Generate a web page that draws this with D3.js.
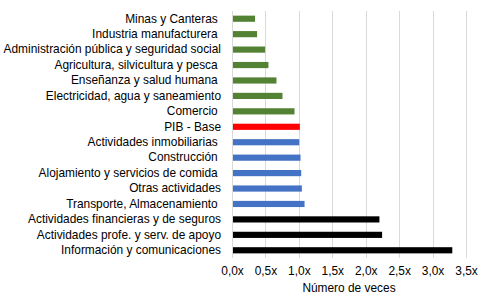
<!DOCTYPE html>
<html>
<head>
<meta charset="utf-8">
<script src="https://cdn.jsdelivr.net/npm/d3@7"></script>
<style>
  body { margin: 0; background: #fff; }
  text { font-family: "Liberation Sans", Arial, sans-serif; fill: #000; }
</style>
</head>
<body>
<div id="chart-area"></div>
<script>
// Data (múltiplos vs PIB)
const categories = [
  'Minas y Canteras ', 'Industria manufacturera ', 'Administración pública y seguridad social',
  'Agricultura, silvicultura y pesca ', 'Enseñanza y salud humana ', 'Electricidad, agua y saneamiento',
  'Comercio ', 'PIB - Base', 'Actividades inmobiliarias ', 'Construcción ',
  'Alojamiento y servicios de comida ', 'Otras actividades', 'Transporte, Almacenamiento ',
  'Actividades financieras y de seguros', 'Actividades profe. y serv. de apoyo', 'Información y comunicaciones'
];
const values = [0.33, 0.36, 0.48, 0.53, 0.65, 0.74, 0.92, 1.00, 0.99, 1.01, 1.02, 1.03, 1.07, 2.19, 2.23, 3.28];
const groups = ['low', 'low', 'low', 'low', 'low', 'low', 'low', 'base', 'mid', 'mid', 'mid', 'mid', 'mid', 'high', 'high', 'high'];
const tickValues = [0, 0.5, 1, 1.5, 2, 2.5, 3, 3.5];

const groupColor = d3.scaleOrdinal()
  .domain(['low', 'base', 'mid', 'high'])
  .range(['#548235', '#ff0000', '#4472c4', '#000000']);

const margins = { top: 11, right: 23, bottom: 50, left: 232 };
const W = 489, H = 308;
const width = W - margins.left - margins.right;
const height = H - margins.top - margins.bottom;
const fontSize = '11.9px';

const svg = d3.select('#chart-area').append('svg')
  .attr('width', W).attr('height', H)
  .append('g')
  .attr('transform', `translate(${margins.left}, ${margins.top})`);

const x = d3.scaleLinear().domain([0, 3.5]).range([0, width]);
const y = d3.scaleBand().domain(categories).range([0, height]).paddingInner(0.6).paddingOuter(0.3);

// gridlines
svg.append('g')
  .selectAll('line')
  .data(tickValues)
  .join('line')
  .attr('x1', d => Math.round(x(d)) + 0.5)
  .attr('x2', d => Math.round(x(d)) + 0.5)
  .attr('y1', 0)
  .attr('y2', height)
  .attr('stroke', '#d9d9d9')
  .attr('stroke-width', 1);

// bars
svg.append('g')
  .selectAll('rect')
  .data(categories)
  .join('rect')
  .attr('x', x(0) + 1)
  .attr('y', d => y(d))
  .attr('width', (d, i) => x(values[i]) - x(0))
  .attr('height', y.bandwidth())
  .attr('fill', (d, i) => groupColor(groups[i]));

// category labels
const yAxis = d3.axisLeft(y).tickSize(0).tickPadding(11);
svg.append('g')
  .call(yAxis)
  .call(g => g.select('.domain').remove())
  .selectAll('text')
  .attr('font-size', fontSize)
  .style('white-space', 'pre')
  .attr('font-family', '"Liberation Sans", Arial, sans-serif');

// x axis labels
const xAxis = d3.axisBottom(x)
  .tickValues(tickValues)
  .tickSize(0)
  .tickPadding(9)
  .tickFormat(d => d3.format('.1f')(d).replace('.', ',') + 'x');
svg.append('g')
  .attr('transform', `translate(0, ${height})`)
  .call(xAxis)
  .call(g => g.select('.domain').remove())
  .selectAll('text')
  .attr('font-size', fontSize)
  .attr('font-family', '"Liberation Sans", Arial, sans-serif');

// axis title
svg.append('text')
  .attr('x', width / 2)
  .attr('y', height + 34)
  .attr('text-anchor', 'middle')
  .attr('font-size', fontSize)
  .text('Número de veces');
</script>
</body>
</html>
